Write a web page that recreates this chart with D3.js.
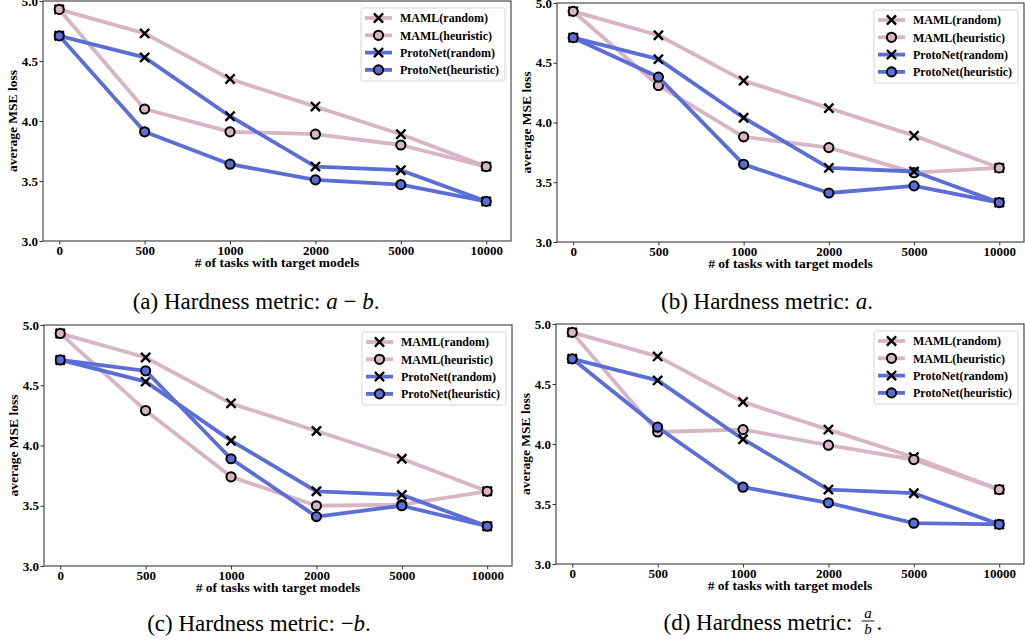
<!DOCTYPE html>
<html>
<head>
<meta charset="utf-8">
<script src="https://cdn.jsdelivr.net/npm/d3@7"></script>
<style>
  body { margin: 0; background: #fff; }
  svg text { font-family: "Liberation Serif", "Times New Roman", serif; }
</style>
</head>
<body>
<div id="chart"></div>
<script>
// Data
const steps = ["0", "500", "1000", "2000", "5000", "10000"];
const seriesNames = ["MAML(random)", "MAML(heuristic)", "ProtoNet(random)", "ProtoNet(heuristic)"];
const yTicks = [3.0, 3.5, 4.0, 4.5, 5.0];

const mamlRandom = [4.93, 4.73, 4.35, 4.12, 3.89, 3.62];
const protoRandom = [4.71, 4.53, 4.04, 3.62, 3.59, 3.33];

const mamlHeurA = [4.93, 4.10, 3.91, 3.89, 3.80, 3.62];
const protoHeurA = [4.71, 3.91, 3.64, 3.51, 3.47, 3.33];

const mamlHeurB = [4.93, 4.31, 3.88, 3.79, 3.58, 3.62];
const protoHeurB = [4.71, 4.38, 3.65, 3.41, 3.47, 3.33];

const mamlHeurC = [4.93, 4.29, 3.74, 3.50, 3.51, 3.62];
const protoHeurC = [4.71, 4.62, 3.89, 3.41, 3.50, 3.33];

const mamlHeurD = [4.93, 4.10, 4.12, 3.99, 3.87, 3.62];
const protoHeurD = [4.71, 4.14, 3.64, 3.51, 3.34, 3.33];

const captions = ["(a)", "(b)", "(c)", "(d)"];

const W = 1025, H = 644;
const pink = "#d7b5c5", blue = "#5b6ed5";
const styles = [
  { color: pink, marker: "x" },
  { color: pink, marker: "o" },
  { color: blue, marker: "x" },
  { color: blue, marker: "o" }
];

const panels = [
  { box: [43, 1, 511, 241], series: [mamlRandom, mamlHeurA, protoRandom, protoHeurA], capX: 256, capY: 309 },
  { box: [557, 3, 1024, 242], series: [mamlRandom, mamlHeurB, protoRandom, protoHeurB], capX: 767, capY: 309 },
  { box: [44, 325, 512, 566], series: [mamlRandom, mamlHeurC, protoRandom, protoHeurC], capX: 259, capY: 631 },
  { box: [556, 324, 1024, 564], series: [mamlRandom, mamlHeurD, protoRandom, protoHeurD], capX: 772, capY: 630 }
];

const svg = d3.select("#chart").append("svg")
  .attr("width", W)
  .attr("height", H);

function drawMarker(sel, type, fill) {
  if (type === "x") {
    sel.append("path")
      .attr("d", "M-4.6,-4.6L4.6,4.6M-4.6,4.6L4.6,-4.6")
      .attr("stroke", "#000")
      .attr("stroke-width", 2.4)
      .attr("fill", "none");
  } else {
    sel.append("circle")
      .attr("r", 4.6)
      .attr("fill", fill)
      .attr("stroke", "#000")
      .attr("stroke-width", 2);
  }
}

panels.forEach((p, pi) => {
  const [x0, y0, x1, y1] = p.box;
  const g = svg.append("g");

  const x = d3.scaleLinear().domain([-0.19, 5.29]).range([x0, x1]);
  const y = d3.scaleLinear().domain([3.0, 5.0]).range([y1, y0]);

  // axes
  g.append("g")
    .attr("transform", `translate(0,${y1})`)
    .call(d3.axisBottom(x).tickValues(d3.range(steps.length)).tickFormat(i => steps[i]).tickSize(3.5).tickPadding(1.5))
    .call(a => a.selectAll("text").attr("font-size", 13).attr("font-weight", "bold").attr("fill", "#000"));

  g.append("g")
    .attr("transform", `translate(${x0},0)`)
    .call(d3.axisLeft(y).tickValues(yTicks).tickFormat(d3.format(".1f")).tickSize(3.5).tickPadding(1.5))
    .call(a => a.selectAll("text").attr("font-size", 13).attr("font-weight", "bold").attr("fill", "#000"));

  g.selectAll(".domain").remove();
  g.selectAll(".tick line").attr("stroke", "#333");

  // frame
  g.append("rect")
    .attr("x", x0).attr("y", y0)
    .attr("width", x1 - x0).attr("height", y1 - y0)
    .attr("fill", "none")
    .attr("stroke", "#3a3a3a")
    .attr("stroke-width", 1.1);

  // axis labels
  g.append("text")
    .attr("x", (x0 + x1) / 2)
    .attr("y", y1 + 26)
    .attr("text-anchor", "middle")
    .attr("font-size", 13.5)
    .attr("font-weight", "bold")
    .text("# of tasks with target models");

  g.append("text")
    .attr("transform", `translate(${x0 - 26},${(y0 + y1) / 2}) rotate(-90)`)
    .attr("text-anchor", "middle")
    .attr("font-size", 13.5)
    .attr("font-weight", "bold")
    .text("average MSE loss");

  // series
  const line = d3.line().x((d, i) => x(i)).y(d => y(d));
  p.series.forEach((vals, si) => {
    const st = styles[si];
    g.append("path")
      .datum(vals)
      .attr("d", line)
      .attr("fill", "none")
      .attr("stroke", st.color)
      .attr("stroke-width", 3.8)
      .attr("stroke-linejoin", "round");
    g.selectAll(null)
      .data(vals)
      .enter().append("g")
      .attr("transform", (d, i) => `translate(${x(i)},${y(d)})`)
      .each(function () { drawMarker(d3.select(this), st.marker, st.color); });
  });

  // legend
  const lg = g.append("g").attr("transform", `translate(${x1 - 150},${y0 + 7})`);
  lg.append("rect")
    .attr("width", 144).attr("height", 73)
    .attr("rx", 2)
    .attr("fill", "#fff")
    .attr("fill-opacity", 0.85)
    .attr("stroke", "#d6d6d6");
  seriesNames.forEach((name, si) => {
    const st = styles[si];
    const row = lg.append("g").attr("transform", `translate(0,${10 + si * 17.3})`);
    row.append("line")
      .attr("x1", 4).attr("x2", 31)
      .attr("stroke", st.color)
      .attr("stroke-width", 3.8);
    const m = row.append("g").attr("transform", "translate(17.5,0)");
    drawMarker(m, st.marker, st.color);
    row.append("text")
      .attr("x", 39)
      .attr("y", 4.2)
      .attr("font-size", 12)
      .attr("font-weight", "bold")
      .text(name);
  });

  // caption
  const capSize = 23;
  const cap = svg.append("text")
    .attr("x", p.capX)
    .attr("y", p.capY)
    .attr("text-anchor", "middle")
    .attr("font-size", capSize);
  if (pi === 0) {
    cap.append("tspan").text(captions[pi] + " Hardness metric:\u00a0");
    cap.append("tspan").attr("font-style", "italic").text("a");
    cap.append("tspan").text("\u00a0\u2212\u00a0");
    cap.append("tspan").attr("font-style", "italic").text("b");
    cap.append("tspan").text(".");
  } else if (pi === 1) {
    cap.append("tspan").text(captions[pi] + " Hardness metric:\u00a0");
    cap.append("tspan").attr("font-style", "italic").text("a");
    cap.append("tspan").text(".");
  } else if (pi === 2) {
    cap.append("tspan").text(captions[pi] + " Hardness metric:\u00a0\u2212");
    cap.append("tspan").attr("font-style", "italic").text("b");
    cap.append("tspan").text(".");
  } else {
    // fraction a/b drawn after the text
    cap.attr("text-anchor", "start").text(captions[pi] + " Hardness metric:");
    const tw = cap.node().getComputedTextLength();
    const gap = 9, fw = 13;
    const total = tw + gap + fw + 6;
    const sx = p.capX - total / 2;
    cap.attr("x", sx);
    const fx = sx + tw + gap + fw / 2;
    svg.append("text").attr("x", fx).attr("y", p.capY - 12).attr("text-anchor", "middle")
      .attr("font-size", 15).attr("font-style", "italic").text("a");
    svg.append("line").attr("x1", fx - fw / 2).attr("x2", fx + fw / 2)
      .attr("y1", p.capY - 9).attr("y2", p.capY - 9)
      .attr("stroke", "#000").attr("stroke-width", 0.9);
    svg.append("text").attr("x", fx).attr("y", p.capY + 4).attr("text-anchor", "middle")
      .attr("font-size", 15).attr("font-style", "italic").text("b");
    svg.append("text").attr("x", fx + fw / 2 + 2).attr("y", p.capY).attr("font-size", capSize).text(".");
  }
});
</script>
</body>
</html>
